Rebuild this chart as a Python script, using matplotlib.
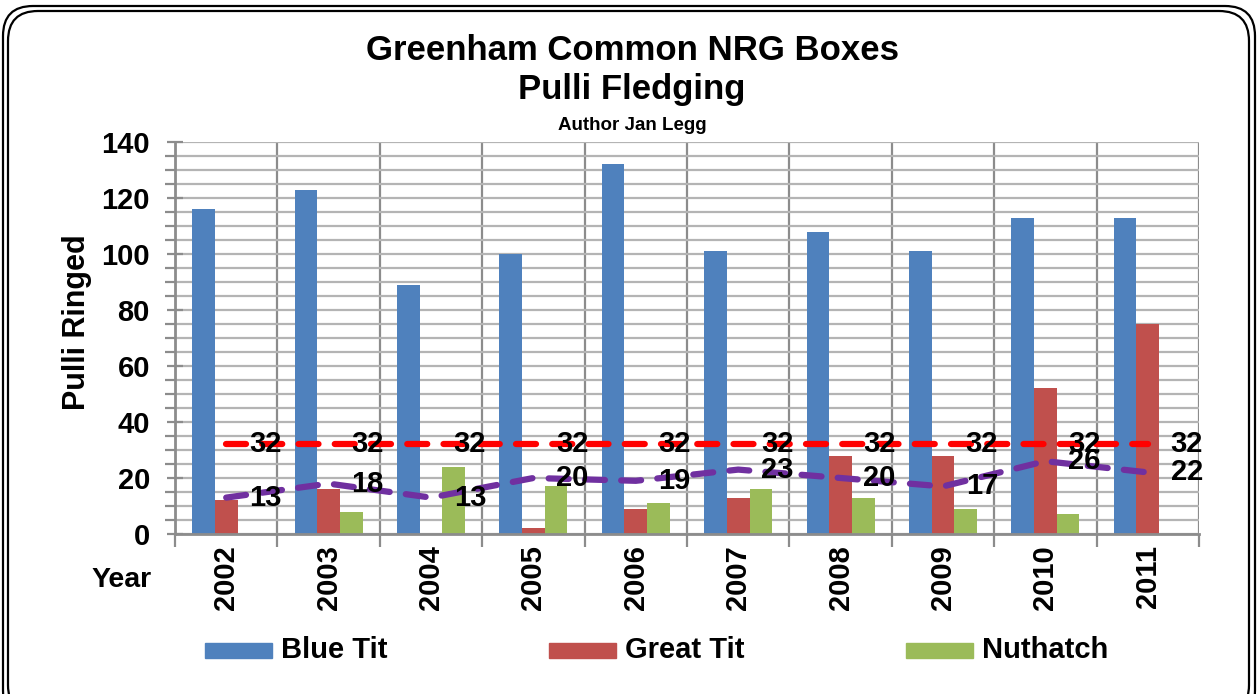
import numpy as np
import matplotlib
matplotlib.use("Agg")
import matplotlib.pyplot as plt
from matplotlib.patches import FancyBboxPatch, Rectangle
from matplotlib.transforms import IdentityTransform
from matplotlib.ticker import MultipleLocator, FixedLocator

years = ["2002", "2003", "2004", "2005", "2006", "2007", "2008", "2009", "2010", "2011"]
blue_tit = [116, 123, 89, 100, 132, 101, 108, 101, 113, 113]
great_tit = [12, 16, 0, 2, 9, 13, 28, 28, 52, 75]
nuthatch = [0, 8, 24, 17, 11, 16, 13, 9, 7, 0]
ref_line = [32, 32, 32, 32, 32, 32, 32, 32, 32, 32]
avg_line = [13, 18, 13, 20, 19, 23, 20, 17, 26, 22]
series_names = ["Blue Tit", "Great Tit", "Nuthatch"]
colors = ["#4f81bd", "#c0504d", "#9bbb59"]

plt.rcParams['font.family'] = ['Liberation Sans', 'DejaVu Sans']
plt.rcParams['font.weight'] = 'bold'

W, H = 1257, 694
fig = plt.figure(figsize=(W / 100, H / 100), dpi=100)

def fx(px):
    return px / W

def fy(py):
    return 1 - py / H

ax = fig.add_axes([fx(175), fy(534), fx(1199) - fx(175), fy(142) - fy(534)])

x = np.arange(len(years))
bw = 0.222
for i, (vals, c) in enumerate(zip([blue_tit, great_tit, nuthatch], colors)):
    ax.bar(x + (i - 1) * bw, vals, width=bw, color=c, zorder=3, linewidth=0)

ax.set_xlim(-0.5, len(years) - 0.5)
ax.set_ylim(0, 140)

# gridlines
ax.yaxis.set_major_locator(MultipleLocator(20))
ax.yaxis.set_minor_locator(MultipleLocator(5))
ax.grid(which='both', axis='y', color='#b4b4b4', lw=1.6, zorder=0)
for b in np.arange(-0.5, len(years), 1.0):
    ax.axvline(b, color='#8c8c8c', lw=1.6, zorder=1)

ax.set_xticks(x)
ax.set_xticklabels(years, rotation=90, fontsize=21, fontweight='bold')
ax.xaxis.set_minor_locator(FixedLocator(np.arange(-0.5, len(years), 1.0)))
ax.tick_params(axis='x', which='major', length=0, pad=8)
ax.tick_params(axis='x', which='minor', length=9, width=1.6, color='#8c8c8c', direction='out')
ax.tick_params(axis='y', which='major', length=12, width=1.6, color='#8c8c8c', direction='inout',
               labelsize=21, pad=12)
ax.tick_params(axis='y', which='minor', length=7, width=1.6, color='#8c8c8c', direction='out')
for lab in ax.get_yticklabels():
    lab.set_fontweight('bold')

for s in ['top', 'right']:
    ax.spines[s].set_visible(False)
for s in ['left', 'bottom']:
    ax.spines[s].set_color('#8c8c8c')
    ax.spines[s].set_linewidth(2)
    ax.spines[s].set_zorder(4)

# lines
ax.plot(x, ref_line, color='#ff0000', lw=4.5, dashes=(3.2, 2.6), dash_capstyle='round',
        zorder=5)
ax.plot(x, avg_line, color='#7030a0', lw=4.5, dashes=(3.2, 2.6), dash_capstyle='round',
        zorder=5)
for xi, v in zip(x, ref_line):
    ax.text(xi + 0.38, v, str(v), ha='center', va='center', fontsize=21, fontweight='bold', zorder=6)
for xi, v in zip(x, avg_line):
    ax.text(xi + 0.38, v, str(v), ha='center', va='center', fontsize=21, fontweight='bold', zorder=6)

fig.text(fx(77), fy(322), "Pulli Ringed", rotation=90, ha='center', va='center',
         fontsize=22, fontweight='bold')
fig.text(fx(122), fy(580), "Year", ha='center', va='center', fontsize=20.5, fontweight='bold')

# titles
fig.text(fx(632), fy(50), "Greenham Common NRG Boxes", ha='center', va='center',
         fontsize=25, fontweight='bold')
fig.text(fx(632), fy(90), "Pulli Fledging", ha='center', va='center',
         fontsize=25, fontweight='bold')
fig.text(fx(632), fy(125), "Author Jan Legg", ha='center', va='center',
         fontsize=13.5, fontweight='bold')

# legend (manual)
leg_x = [205, 549, 906]
for lx, name, c in zip(leg_x, series_names, colors):
    fig.patches.append(Rectangle((fx(lx), fy(658)), fx(67), fy(643) - fy(658),
                                 transform=fig.transFigure, color=c, figure=fig))
    fig.text(fx(lx + 76), fy(650), name, ha='left', va='center', fontsize=21, fontweight='bold')

# double rounded border
for (x0, y0, x1, y1) in [(3, 6, 1255, 720), (8, 11, 1249, 715)]:
    fig.patches.append(FancyBboxPatch((x0, H - y1), x1 - x0, y1 - y0,
                                      boxstyle='round,pad=0,rounding_size=30',
                                      transform=IdentityTransform(), fill=False,
                                      lw=1.6, ec='black', figure=fig))

fig.savefig("out.png", dpi=100)
